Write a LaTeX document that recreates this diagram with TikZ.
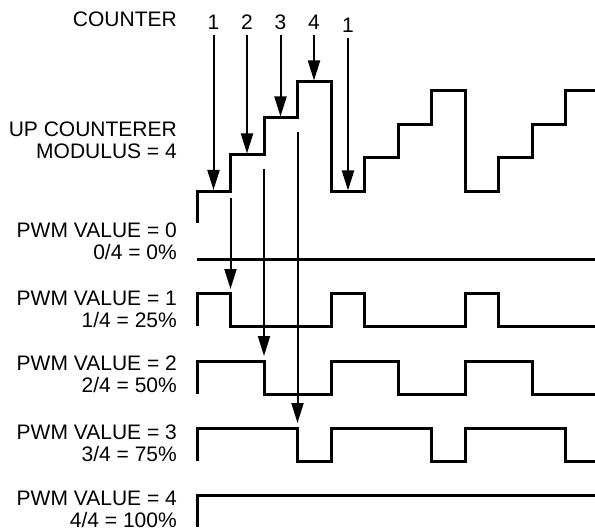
\documentclass[tikz,border=0pt]{standalone}
\usepackage{fontspec}
\setmainfont{Liberation Sans}
\usetikzlibrary{arrows.meta}

\begin{document}
\begin{tikzpicture}[x=1pt, y=-1pt,
	every node/.style={font=\fontsize{21}{22}\selectfont, inner sep=0pt},
	wave/.style={line width=3pt},
	tick/.style={line width=2pt, -{Triangle[length=20pt,width=12pt]}},
	lbl/.style={anchor=east, align=right},
	cval/.style={outer sep=6pt}]
	\useasboundingbox (0,0) rectangle (595,532);
	% row labels
	\node[lbl] (cnt) at (177,19) {COUNTER};
	\node[lbl] (upc) at (177,140) {UP COUNTERER\\MODULUS = 4};
	\node[lbl] (p0) at (177,241.5) {PWM VALUE = 0\\0/4 = 0\%};
	\node[lbl] (p1) at (177,309.5) {PWM VALUE = 1\\1/4 = 25\%};
	\node[lbl] (p2) at (177,374.5) {PWM VALUE = 2\\2/4 = 50\%};
	\node[lbl] (p3) at (177,443.5) {PWM VALUE = 3\\3/4 = 75\%};
	\node[lbl] (p4) at (177,509) {PWM VALUE = 4\\4/4 = 100\%};
	% counter values
	\node[cval] (n1) at (213.5,22) {1};
	\node[cval] (n2) at (247,22) {2};
	\node[cval] (n3) at (280.5,22) {3};
	\node[cval] (n4) at (314,22) {4};
	\node[cval] (n5) at (348,25) {1};
	% staircase of the counter
	\draw[wave] (197,223) -- (197,192) -- (230.5,192) -- (230.5,155) -- (264,155)
		-- (264,118) -- (297.5,118) -- (297.5,82) -- (331,82) -- (331,192)
		-- (364.5,192) -- (364.5,158) -- (398,158) -- (398,125) -- (431.5,125)
		-- (431.5,91) -- (465,91) -- (465,192) -- (498.5,192) -- (498.5,158)
		-- (532,158) -- (532,125) -- (565.5,125) -- (565.5,91) -- (595,91);
	% pwm outputs
	\draw[wave] (197,259) -- (595,259);
	\draw[wave] (197,326) -- (197,293) -- (230.5,293) -- (230.5,326) -- (331,326)
		-- (331,293) -- (364.5,293) -- (364.5,326) -- (465,326) -- (465,293)
		-- (498.5,293) -- (498.5,326) -- (595,326);
	\draw[wave] (197,394) -- (197,361) -- (264,361) -- (264,394) -- (331,394)
		-- (331,361) -- (398,361) -- (398,394) -- (465,394) -- (465,361)
		-- (532,361) -- (532,394) -- (595,394);
	\draw[wave] (197,461) -- (197,428) -- (297.5,428) -- (297.5,461) -- (331,461)
		-- (331,428) -- (431.5,428) -- (431.5,461) -- (465,461) -- (465,428)
		-- (565.5,428) -- (565.5,461) -- (595,461);
	\draw[wave] (197,527) -- (197,495) -- (595,495);
	% arrows onto the steps
	\coordinate (s1) at (213.5,190);
	\coordinate (s2) at (247,153.5);
	\coordinate (s3) at (280.5,116.5);
	\coordinate (s4) at (314,80.5);
	\coordinate (s5) at (348,190.5);
	\draw[tick] (n1) -- (s1);
	\draw[tick] (n2) -- (s2);
	\draw[tick] (n3) -- (s3);
	\draw[tick] (n4) -- (s4);
	\draw[tick] (n5) -- (s5);
	% arrows down to the outputs
	\coordinate (t1) at (230.5,198);
	\coordinate (h1) at (230.5,289);
	\coordinate (t2) at (264,169);
	\coordinate (h2) at (264,356);
	\coordinate (t3) at (297.5,132);
	\coordinate (h3) at (297.5,423);
	\draw[tick] (t1) -- (h1);
	\draw[tick] (t2) -- (h2);
	\draw[tick] (t3) -- (h3);
\end{tikzpicture}
\end{document}
